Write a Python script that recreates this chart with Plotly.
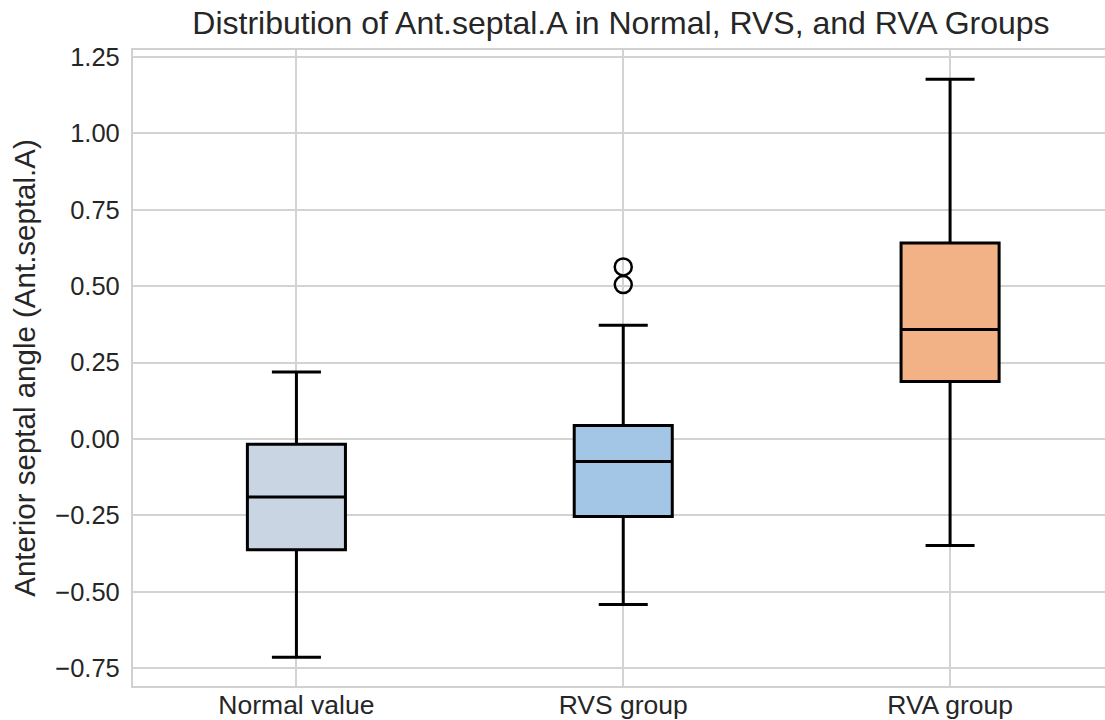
import plotly.graph_objects as go

categories = ["Normal value", "RVS group", "RVA group"]
q1 = [-0.363, -0.254, 0.188]
median = [-0.190, -0.074, 0.358]
q3 = [-0.018, 0.044, 0.641]
lower_whisker = [-0.715, -0.542, -0.349]
upper_whisker = [0.219, 0.372, 1.177]
fill_colors = ["#c9d5e2", "#a4c6e6", "#f2b285"]

outlier_group = ["RVS group", "RVS group"]
outlier_values = [0.505, 0.563]

ytick_vals = [-0.75, -0.5, -0.25, 0.0, 0.25, 0.5, 0.75, 1.0, 1.25]
ytick_text = ["\u22120.75", "\u22120.50", "\u22120.25", "0.00", "0.25", "0.50", "0.75", "1.00", "1.25"]

font_family = "Liberation Sans, Arial, sans-serif"
text_color = "#262626"

W, H = 1105, 720

fig = go.Figure()
for i, cat in enumerate(categories):
    fig.add_trace(go.Box(
        x=[cat], q1=[q1[i]], median=[median[i]], q3=[q3[i]],
        lowerfence=[lower_whisker[i]], upperfence=[upper_whisker[i]],
        fillcolor=fill_colors[i],
        line=dict(color="black", width=3),
        width=0.3, whiskerwidth=0.5,
        boxpoints=False, showlegend=False, hoverinfo="y",
    ))

fig.add_trace(go.Scatter(
    x=outlier_group, y=outlier_values, mode="markers",
    marker=dict(symbol="circle-open", size=17, color="black", line=dict(width=2.5)),
    showlegend=False,
))

fig.update_layout(
    width=W, height=H,
    margin=dict(l=133, r=0, t=50, b=34),
    paper_bgcolor="white", plot_bgcolor="white",
    boxmode="overlay",
    font=dict(family=font_family, color=text_color, size=25),
    title=dict(
        text="Distribution of Ant.septal.A in Normal, RVS, and RVA Groups",
        x=0.502, xanchor="center", xref="paper",
        y=1 - 23 / H, yanchor="middle", yref="container",
        font=dict(size=32, color=text_color, family=font_family),
    ),
    xaxis=dict(
        type="category", categoryorder="array", categoryarray=categories,
        range=[-0.5, 2.474],
        showgrid=True, gridcolor="#d3d3d3", gridwidth=1.8,
        showline=True, linecolor="#d0d0d0", linewidth=2.2, mirror=True,
        ticks="", ticklabelstandoff=-6,
        tickfont=dict(size=26.5, color=text_color, family=font_family),
        zeroline=False, automargin=False,
    ),
    yaxis=dict(
        range=[-0.809, 1.273],
        tickvals=ytick_vals, ticktext=ytick_text,
        showgrid=True, gridcolor="#d3d3d3", gridwidth=1.8,
        showline=True, linecolor="#d0d0d0", linewidth=2.2, mirror=False,
        ticks="", ticklabelstandoff=6,
        tickfont=dict(size=25.5, color=text_color, family=font_family),
        zeroline=False, automargin=False,
        title=dict(text="Anterior septal angle (Ant.septal.A)",
                   font=dict(size=29.5, color=text_color, family=font_family),
                   standoff=11),
    ),
)

fig.write_html("out.html", config={"displayModeBar": False},
               post_script="document.body.style.margin='0px';")
